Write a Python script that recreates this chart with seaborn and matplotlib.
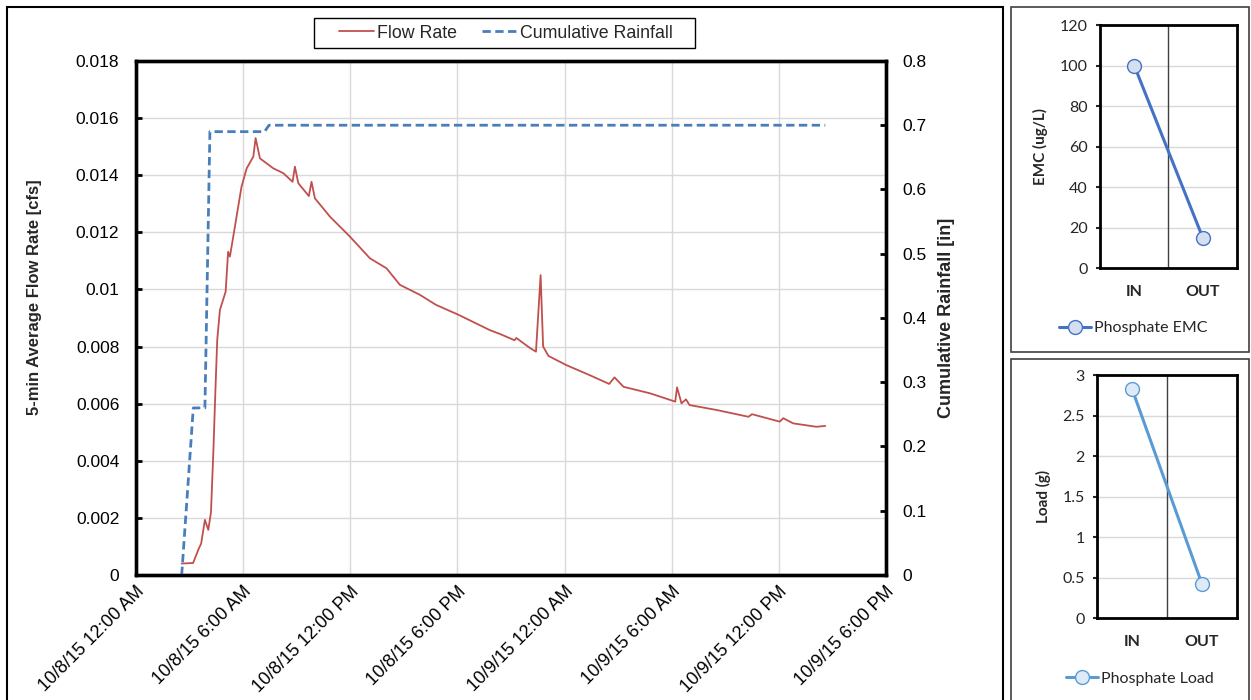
import numpy as np
import pandas as pd
import matplotlib
matplotlib.use("Agg")
import matplotlib.pyplot as plt
from matplotlib.patches import Rectangle
import seaborn as sns

# ---------------- data ----------------
flow_hours = [2.56, 3.2, 3.5, 3.65, 3.86, 4.05, 4.2, 4.33, 4.45, 4.55, 4.7, 5.02, 5.16, 5.26,
              5.54, 5.91, 6.2, 6.57, 6.7, 6.94, 7.69, 8.25, 8.77, 8.9, 9.09, 9.68, 9.83,
              10.02, 10.86, 11.98, 13.1, 14.03, 14.78, 15.9, 16.8, 18.1, 19.8, 20.38, 21.2,
              21.3, 22.06, 22.4, 22.66, 22.8, 23.1, 24.1, 25.4, 26.5, 26.8, 27.3, 28.8,
              30.2, 30.3, 30.55, 30.8, 31.0, 32.5, 34.3, 34.5, 36.05, 36.25, 36.8, 38.1, 38.6]
flow_rate = [0.0004, 0.00042, 0.0009, 0.0011, 0.00193, 0.00158, 0.0022, 0.00427, 0.0065, 0.00823,
             0.00928, 0.00992, 0.01132, 0.01115, 0.0122, 0.0136, 0.01424, 0.01465, 0.0153,
             0.01459, 0.01424, 0.01407, 0.01377, 0.0143, 0.01372, 0.01327, 0.01377, 0.01319,
             0.01255, 0.01185, 0.01109, 0.01074, 0.01016, 0.00981, 0.00946, 0.0091, 0.00858,
             0.00844, 0.00822, 0.0083, 0.00795, 0.00782, 0.0105, 0.0080, 0.00767, 0.00735,
             0.0070, 0.00669, 0.00692, 0.00659, 0.00636, 0.00607, 0.00657, 0.00601, 0.00615,
             0.00595, 0.00578, 0.00554, 0.00563, 0.00537, 0.00549, 0.00531, 0.00519, 0.00522]

rain_hours = [2.56, 3.21, 3.86, 4.14, 7.2, 7.45, 38.6]
rain_cum = [0.0, 0.26, 0.26, 0.69, 0.69, 0.70, 0.70]

x_tick_labels = ["10/8/15 12:00 AM", "10/8/15 6:00 AM", "10/8/15 12:00 PM", "10/8/15 6:00 PM",
                 "10/9/15 12:00 AM", "10/9/15 6:00 AM", "10/9/15 12:00 PM", "10/9/15 6:00 PM"]
flow_ticks = [0, 0.002, 0.004, 0.006, 0.008, 0.01, 0.012, 0.014, 0.016, 0.018]
flow_tick_labels = ["0", "0.002", "0.004", "0.006", "0.008", "0.01", "0.012", "0.014", "0.016", "0.018"]
rain_ticks = [0, 0.1, 0.2, 0.3, 0.4, 0.5, 0.6, 0.7, 0.8]
rain_tick_labels = ["0", "0.1", "0.2", "0.3", "0.4", "0.5", "0.6", "0.7", "0.8"]

stations = ["IN", "OUT"]
emc_values = [100, 15]
load_values = [2.83, 0.42]
emc_ticks = [0, 20, 40, 60, 80, 100, 120]
load_ticks = [0, 0.5, 1, 1.5, 2, 2.5, 3]
load_tick_labels = ["0", "0.5", "1", "1.5", "2", "2.5", "3"]

# ---------------- style ----------------
sns.set_theme(style="white")
plt.rcParams["font.family"] = ["Liberation Sans", "DejaVu Sans"]

FLOW_C = "#C0504D"
RAIN_C = "#4A7EBB"
GRID_C = "#D9D9D9"

fig = plt.figure(figsize=(12.51, 7.0), dpi=100)

base = pd.Timestamp("2015-10-08 00:00")
flow_t = base + pd.to_timedelta(flow_hours, unit="h")
rain_t = base + pd.to_timedelta(rain_hours, unit="h")
tick_t = pd.date_range(base, periods=len(x_tick_labels), freq="6h")

ax = fig.add_axes([0.1087, 0.1786, 0.5995, 0.7343])
ax2 = ax.twinx()

sns.lineplot(x=flow_t, y=flow_rate, ax=ax, color=FLOW_C, lw=1.3)
sns.lineplot(x=rain_t, y=rain_cum, ax=ax2, color=RAIN_C, lw=2.0)
ax2.lines[0].set_dashes([3.0, 1.6])

ax.set_xlim(base, base + pd.Timedelta(hours=42))
ax.set_xticks(tick_t)
ax.set_xticklabels(x_tick_labels, rotation=45, ha="right", rotation_mode="anchor", fontsize=13)
ax.set_ylim(0, 0.018)
ax.set_yticks(flow_ticks)
ax.set_yticklabels(flow_tick_labels, fontsize=12.5)
ax2.set_ylim(0, 0.8)
ax2.set_yticks(rain_ticks)
ax2.set_yticklabels(rain_tick_labels, fontsize=12.5)

ax.grid(True, color=GRID_C, lw=1.0)
ax.set_axisbelow(True)
ax2.grid(False)

for a in (ax, ax2):
    for s in a.spines.values():
        s.set_color("black")
        s.set_linewidth(2.4)
    a.tick_params(direction="in", length=4, width=2, colors="black", labelcolor="black")
ax.tick_params(axis="y", pad=12)
ax.tick_params(axis="x", pad=6)
ax2.tick_params(axis="y", pad=12)

ax.set_xlabel("")
ax.set_ylabel("5-min Average Flow Rate [cfs]", fontsize=12, fontweight="bold")
ax.yaxis.set_label_coords(-0.1253, 0.541)
ax2.set_ylabel("Cumulative Rainfall [in]", fontsize=13, fontweight="bold", labelpad=8)

leg = fig.legend([ax.lines[0], ax2.lines[0]], ["Flow Rate", "Cumulative Rainfall"],
                 loc="center", bbox_to_anchor=(506 / 1251, 1 - 33 / 700), ncol=2,
                 frameon=False, fontsize=12.8,
                 handlelength=2.0, handletextpad=0.15, columnspacing=1.4)

# ---------------- side panels ----------------
side_font = ["Lato", "DejaVu Sans"]


def side_panel(rect, values, ticks, tick_labels, ylim, color, face, label, ylabel, leg_xy):
    a = fig.add_axes(rect)
    sns.lineplot(x=stations, y=values, ax=a, color=color, lw=2.2, marker="o",
                 markersize=10, markerfacecolor=face, markeredgecolor=color,
                 markeredgewidth=1.0, sort=False, label=label)
    a.set_xlim(-0.5, 1.5)
    a.set_ylim(*ylim)
    a.set_yticks(ticks)
    a.set_yticklabels(tick_labels, fontsize=11.5, family=side_font)
    a.set_xticks([0, 1])
    a.set_xticklabels(stations, fontsize=11.5, fontweight="bold", family=side_font)
    a.yaxis.grid(True, color=GRID_C, lw=1.0)
    a.xaxis.grid(False)
    a.set_axisbelow(True)
    a.axvline(0.5, color="#404040", lw=1.0, zorder=1)
    for s in a.spines.values():
        s.set_color("black")
        s.set_linewidth(2.0)
    a.tick_params(axis="y", direction="out", length=3, width=1.5, pad=6, left=True)
    a.tick_params(axis="x", length=0, pad=12)
    a.set_xlabel("")
    a.set_ylabel(ylabel, fontsize=11, fontweight="bold", family=side_font, labelpad=8)
    a.legend(loc="center", bbox_to_anchor=leg_xy, bbox_transform=fig.transFigure,
             frameon=False, handlelength=2.0, handletextpad=0.2,
             prop={"family": side_font, "size": 11.5})
    return a


side_panel([0.8793, 0.6171, 0.1095, 0.3471], emc_values, emc_ticks,
           [str(t) for t in emc_ticks], (0, 120), "#4472C4", "#D6DFF0",
           "Phosphate EMC", "EMC (ug/L)", (1133 / 1251, 1 - 328 / 700))
side_panel([0.8769, 0.1171, 0.1119, 0.3471], load_values, load_ticks,
           load_tick_labels, (0, 3), "#5B9BD5", "#DEEBF7",
           "Phosphate Load", "Load (g)", (1140 / 1251, 1 - 679 / 700))

# ---------------- frames ----------------
def frame(x0, y0, x1, y1, lw, col):
    fig.patches.append(Rectangle((x0 / 1251, 1 - y1 / 700), (x1 - x0) / 1251, (y1 - y0) / 700,
                                 transform=fig.transFigure, fill=False, lw=lw, ec=col,
                                 figure=fig))

frame(7, 7, 1003, 712, 1.5, "black")
frame(1011, 7, 1249, 352, 1.2, "#404040")
frame(1011, 359, 1249, 712, 1.2, "#404040")
frame(314, 18, 695, 48, 1.0, "black")  # legend box

fig.savefig("out.png", dpi=100, facecolor="white")
